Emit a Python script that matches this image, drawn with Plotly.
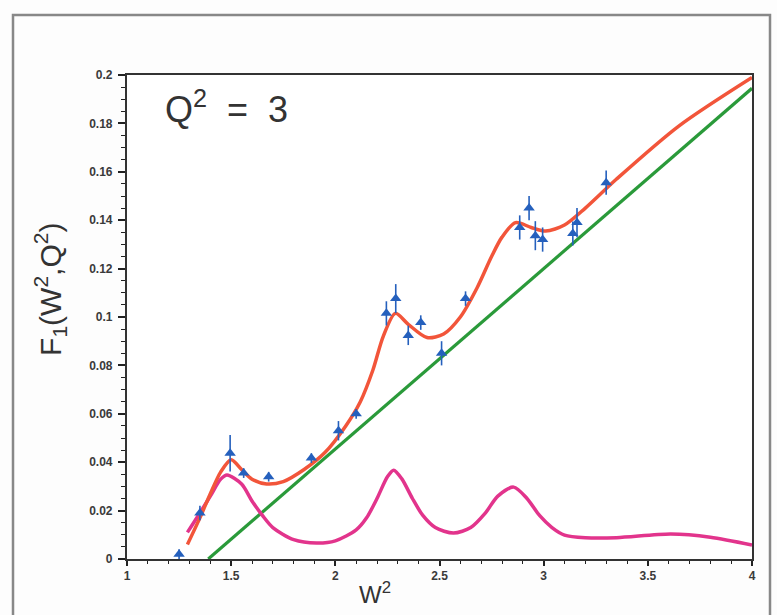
import plotly.graph_objects as go

# Fit curve (red)
fit_x = [1.29, 1.35, 1.40, 1.45, 1.50, 1.55, 1.60, 1.67, 1.75, 1.85, 1.95, 2.05, 2.12, 2.18, 2.23, 2.288,
         2.35, 2.44, 2.52, 2.60, 2.68, 2.75, 2.80, 2.865, 2.94, 3.01, 3.10, 3.20, 3.35, 3.65, 4.00]
fit_y = [0.006, 0.017, 0.027, 0.036, 0.041, 0.037, 0.033, 0.031, 0.032, 0.037, 0.044, 0.055, 0.065, 0.078,
         0.092, 0.1015, 0.097, 0.0915, 0.093, 0.100, 0.112, 0.125, 0.133, 0.139, 0.137, 0.1355, 0.138, 0.145,
         0.157, 0.179, 0.199]

# Resonance contribution (magenta)
res_x = [1.29, 1.35, 1.40, 1.45, 1.48, 1.55, 1.60, 1.65, 1.70, 1.80, 1.91, 2.00, 2.10, 2.15, 2.20, 2.25, 2.28,
         2.32, 2.37, 2.42, 2.48, 2.567, 2.65, 2.72, 2.78, 2.856, 2.92, 2.98, 3.04, 3.10, 3.20, 3.35, 3.61,
         3.80, 4.00]
res_y = [0.011, 0.019, 0.026, 0.033, 0.0347, 0.031, 0.024, 0.018, 0.013, 0.008, 0.0066, 0.0075, 0.012, 0.017,
         0.025, 0.034, 0.0367, 0.033, 0.025, 0.018, 0.013, 0.0107, 0.013, 0.019, 0.026, 0.0297, 0.025, 0.018,
         0.013, 0.0099, 0.0088, 0.0088, 0.0103, 0.0090, 0.0058]

# Background (green)
bg_x = [1.39, 4.0]
bg_y = [0.0, 0.1945]

# Data points
data_x = [1.25, 1.35, 1.495, 1.56, 1.68, 1.885, 2.015, 2.10, 2.245, 2.29, 2.35, 2.41, 2.51, 2.625,
          2.885, 2.93, 2.96, 2.995, 3.14, 3.16, 3.30]
data_y = [0.002, 0.019, 0.0437, 0.0355, 0.034, 0.0417, 0.053, 0.060, 0.1015, 0.1076, 0.0924, 0.0977, 0.085,
          0.1076, 0.137, 0.145, 0.1336, 0.132, 0.1345, 0.139, 0.1555]
data_err = [0.002, 0.003, 0.0075, 0.002, 0.002, 0.002, 0.004, 0.002, 0.005, 0.006, 0.004, 0.003, 0.005,
            0.003, 0.005, 0.005, 0.006, 0.005, 0.005, 0.006, 0.005]

fig = go.Figure()
fig.add_trace(go.Scatter(x=bg_x, y=bg_y, mode="lines", line=dict(color="#2a9a3a", width=3.2), hoverinfo="skip"))
fig.add_trace(go.Scatter(x=res_x, y=res_y, mode="lines", line=dict(color="#e2348c", width=3.5, shape="spline",
                                                                   smoothing=0.8), hoverinfo="skip"))
fig.add_trace(go.Scatter(x=fit_x, y=fit_y, mode="lines", line=dict(color="#f2553a", width=3.5, shape="spline",
                                                                   smoothing=0.8), hoverinfo="skip"))
fig.add_trace(go.Scatter(x=data_x, y=data_y, mode="markers",
                         marker=dict(symbol="triangle-up", size=10, color="#2560bd"),
                         error_y=dict(type="data", array=data_err, color="#2560bd", thickness=1.6, width=0)))

tickfont = dict(family="Arial", size=12, color="#3a3a3a", weight="bold")
fig.update_xaxes(range=[1, 4], tickmode="linear", tick0=1, dtick=0.5,
                 ticks="outside", ticklen=5, tickwidth=1.5, tickcolor="#222",
                 minor=dict(dtick=0.1, ticks="outside", ticklen=3, tickwidth=1.2, tickcolor="#222"),
                 showline=True, linecolor="#333", linewidth=1.5, mirror=True, showgrid=False, zeroline=False,
                 tickfont=tickfont)
fig.update_yaxes(range=[0, 0.2], tickmode="linear", tick0=0, dtick=0.02,
                 ticks="outside", ticklen=7, tickwidth=1.5, tickcolor="#222",
                 minor=dict(dtick=0.005, ticks="outside", ticklen=4, tickwidth=1.2, tickcolor="#222"),
                 showline=True, linecolor="#333", linewidth=1.5, mirror=True, showgrid=False, zeroline=False,
                 tickfont=tickfont, ticksuffix="\u00a0")

fig.add_annotation(xref="paper", yref="paper", x=-0.16, y=0.556, text="F<sub>1</sub>(W<sup>2</sup>,Q<sup>2</sup>)",
                   textangle=-90, showarrow=False, font=dict(family="Arial", size=30, color="#333"))
fig.add_annotation(xref="paper", yref="paper", x=0.058, y=0.985, xanchor="left",
                   text="Q<sup>2</sup>  =  3", showarrow=False, font=dict(family="Arial", size=36, color="#333"))
fig.add_annotation(xref="paper", yref="paper", x=0.397, y=-0.105, text="W<sup>2</sup>", showarrow=False,
                   font=dict(family="Arial", size=24, color="#333"))

fig.add_shape(type="rect", xref="paper", yref="paper", x0=-0.1824, x1=1.0288, y0=-0.15, y1=1.124,
              line=dict(color="#888", width=2.5))

fig.update_layout(width=777, height=615, margin=dict(l=127, r=25, t=75, b=56),
                  plot_bgcolor="white", paper_bgcolor="#fdfdfd", showlegend=False)

fig.write_html("out.html")
